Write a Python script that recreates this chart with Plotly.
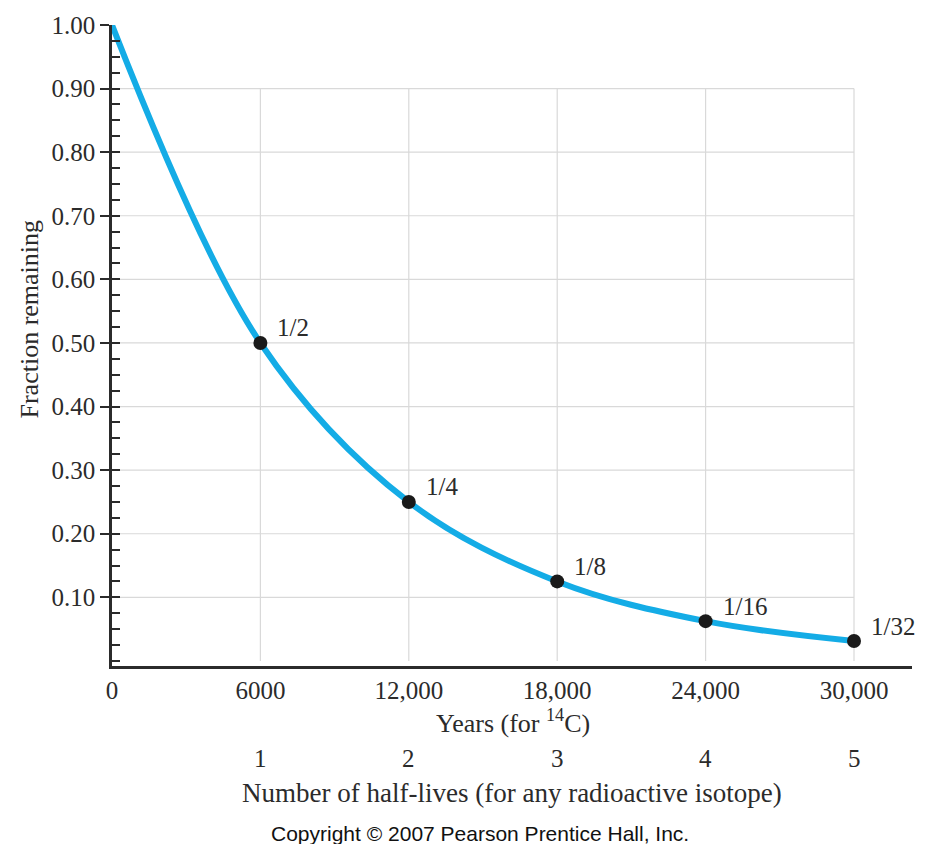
import plotly.graph_objects as go

# Radioactive decay: fraction of a sample remaining versus time
years = [0, 6000, 12000, 18000, 24000, 30000]
fraction = [1.0, 1 / 2, 1 / 4, 1 / 8, 1 / 16, 1 / 32]
point_labels = ["1/2", "1/4", "1/8", "1/16", "1/32"]

year_ticks = [0, 6000, 12000, 18000, 24000, 30000]
year_ticktext = ["0", "6000", "12,000", "18,000", "24,000", "30,000"]
halflife_ticks = [6000, 12000, 18000, 24000, 30000]
halflife_text = ["1", "2", "3", "4", "5"]
frac_ticks = [0.1, 0.2, 0.3, 0.4, 0.5, 0.6, 0.7, 0.8, 0.9, 1.0]

SERIF = "Liberation Serif, Times New Roman, serif"
INK = "#2b2b2b"
CURVE = "#14ace6"
GRID = "#d9d9d9"

X_MAX = 32345
Y_MIN = -0.008

fig = go.Figure()

# light grid box: horizontal lines up to 0.90, vertical lines at each half-life
shapes = []
for v in frac_ticks[:-1]:
    shapes.append(dict(type="line", xref="x", yref="y", x0=0, x1=30000, y0=v, y1=v,
                       line=dict(color=GRID, width=1.2), layer="below"))
for v in halflife_ticks:
    shapes.append(dict(type="line", xref="x", yref="y", x0=v, x1=v, y0=0, y1=0.9,
                       line=dict(color=GRID, width=1.2), layer="below"))

# decay curve
fig.add_trace(go.Scatter(
    x=years, y=fraction, mode="lines",
    line=dict(color=CURVE, width=6, shape="spline", smoothing=1.0),
    hoverinfo="skip", showlegend=False,
))

# half-life points
fig.add_trace(go.Scatter(
    x=years[1:], y=fraction[1:], mode="markers",
    marker=dict(color="#1a1a1a", size=14),
    showlegend=False,
))

# invisible trace to activate the inner tick axis
fig.add_trace(go.Scatter(x=[0], y=[0], yaxis="y2", mode="markers",
                         marker=dict(opacity=0), hoverinfo="skip", showlegend=False))

annotations = []
for xv, yv, txt in zip(years[1:], fraction[1:], point_labels):
    annotations.append(dict(x=xv, y=yv, xref="x", yref="y", text=txt, showarrow=False,
                            xanchor="left", yanchor="middle", xshift=15, yshift=15,
                            font=dict(family=SERIF, size=25, color=INK)))

# axis titles and the half-life scale under the year axis
annotations.append(dict(x=16200, y=0, xref="x", yref="paper",
                        text="Years (for <sup>14</sup>C)", showarrow=False,
                        yanchor="middle", yshift=-55,
                        font=dict(family=SERIF, size=26, color=INK)))
for xv, txt in zip(halflife_ticks, halflife_text):
    annotations.append(dict(x=xv, y=0, xref="x", yref="paper", text=txt, showarrow=False,
                            yanchor="middle", yshift=-92,
                            font=dict(family=SERIF, size=25, color=INK)))
annotations.append(dict(x=16170, y=0, xref="x", yref="paper",
                        text="Number of half-lives (for any radioactive isotope)",
                        showarrow=False, yanchor="middle", yshift=-127,
                        font=dict(family=SERIF, size=27, color=INK)))
annotations.append(dict(x=0.5, y=0, xref="paper", yref="paper",
                        text="Copyright © 2007 Pearson Prentice Hall, Inc.",
                        showarrow=False, yanchor="middle", yshift=-167, xshift=-32,
                        font=dict(family="Liberation Sans, Arial, sans-serif", size=21,
                                  color="#111111")))
annotations.append(dict(x=0, y=0.5, xref="paper", yref="paper", text="Fraction remaining",
                        showarrow=False, textangle=-90, xanchor="center", yanchor="middle",
                        xshift=-83, yshift=26,
                        font=dict(family=SERIF, size=26, color=INK)))

fig.update_layout(
    width=934, height=844,
    margin=dict(l=112, r=22, t=20, b=178),
    paper_bgcolor="white", plot_bgcolor="white",
    showlegend=False,
    shapes=shapes,
    annotations=annotations,
    xaxis=dict(
        range=[0, X_MAX], showgrid=False, zeroline=False,
        showline=True, linecolor=INK, linewidth=2.5,
        tickmode="array", tickvals=year_ticks, ticktext=year_ticktext,
        ticks="", tickfont=dict(family=SERIF, size=25, color=INK),
    ),
    yaxis=dict(
        range=[Y_MIN, 1.0], showgrid=False, zeroline=False,
        showline=True, linecolor=INK, linewidth=2.5,
        tickmode="array", tickvals=frac_ticks,
        ticktext=[f"{v:.2f}" for v in frac_ticks],
        ticks="outside", ticklen=9, tickwidth=1.8, tickcolor=INK,
        tickfont=dict(family=SERIF, size=25, color=INK),
    ),
    yaxis2=dict(
        range=[Y_MIN, 1.0], overlaying="y", side="left", anchor="x",
        showgrid=False, zeroline=False, showline=False,
        tick0=0, dtick=0.025, ticks="inside", ticklen=8, tickwidth=1.5, tickcolor=INK,
        showticklabels=False,
    ),
)

fig.write_html("out.html")
